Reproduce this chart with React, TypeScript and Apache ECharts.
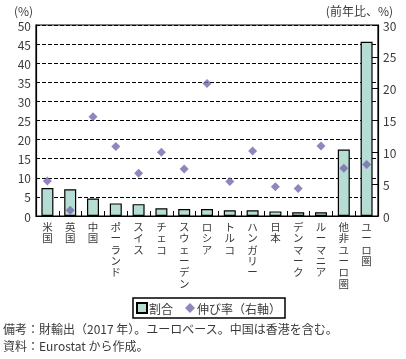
import React, { useEffect, useRef } from "react";
import * as echarts from "echarts";

const categories = ["米国", "英国", "中国", "ポーランド", "スイス", "チェコ", "スウェーデン", "ロシア", "トルコ", "ハンガリー", "日本", "デンマーク", "ルーマニア", "他非ユーロ圏", "ユーロ圏"];
const shareValues = [7.3, 7.0, 4.6, 3.3, 3.1, 2.0, 1.8, 1.8, 1.5, 1.5, 1.2, 1.0, 1.0, 17.4, 45.6];
const growthValues = [5.5, 0.9, 15.6, 10.9, 6.7, 10.0, 7.4, 20.8, 5.4, 10.2, 4.6, 4.3, 11.0, 7.5, 8.1];
const leftTicks = { min: 0, max: 50, interval: 5 };
const rightTicks = { min: 0, max: 30, interval: 5 };
const seriesNames = ["割合", "伸び率（右軸）"];
const leftUnit = "(%)";
const rightUnit = "(前年比、%)";
const notes = ["備考：財輸出（2017 年）。ユーロベース。中国は香港を含む。", "資料：Eurostat から作成。"];

const FONT = "'Noto Sans CJK JP', 'Noto Sans', sans-serif";
const TEXT = "#3a3a3a";

export default function App() {
  const ref = useRef<HTMLDivElement>(null);
  useEffect(() => {
    if (!ref.current) return;
    const chart = echarts.init(ref.current, null, { renderer: "svg" });
    chart.setOption({
      animation: false,
      textStyle: { fontFamily: FONT },
      grid: { left: 36, right: 28, top: 25, bottom: 143, show: true, borderColor: "#000", borderWidth: 1.2, backgroundColor: "transparent" },
      xAxis: {
        type: "category",
        data: categories,
        axisLine: { show: true, lineStyle: { color: "#000", width: 1.2 } },
        axisTick: { show: true, inside: true, length: 5, lineStyle: { color: "#000" } },
        axisLabel: {
          interval: 0,
          margin: 5,
          fontSize: 10.5,
          lineHeight: 11.3,
          color: TEXT,
          fontFamily: FONT,
          verticalAlign: "top",
          formatter: (v: string) => v.split("").join("\n"),
        },
      },
      yAxis: [
        {
          type: "value",
          min: leftTicks.min,
          max: leftTicks.max,
          interval: leftTicks.interval,
          axisLine: { show: true, lineStyle: { color: "#000", width: 1.2 } },
          axisTick: { show: false },
          axisLabel: { fontSize: 12, color: TEXT, margin: 5, fontFamily: FONT },
          splitLine: { show: true, lineStyle: { color: "#000", type: [4, 2], width: 1 } },
        },
        {
          type: "value",
          position: "right",
          min: rightTicks.min,
          max: rightTicks.max,
          interval: rightTicks.interval,
          axisLine: { show: true, lineStyle: { color: "#000", width: 1.2 } },
          axisTick: { show: true, inside: true, length: 6, lineStyle: { color: "#000" } },
          axisLabel: { fontSize: 12, color: TEXT, margin: 5, fontFamily: FONT },
          splitLine: { show: false },
        },
      ],
      legend: {
        left: 133,
        top: 298,
        padding: [4, 4, 4, 3],
        borderColor: "#000",
        borderWidth: 1.5,
        itemWidth: 10,
        itemHeight: 10,
        itemGap: 12,
        textStyle: { fontSize: 12, color: TEXT, fontFamily: FONT, padding: [0, 0, 0, -3] },
        data: [
          { name: seriesNames[0], icon: "rect" },
          { name: seriesNames[1], icon: "diamond", itemStyle: { borderWidth: 0 } },
        ],
      },
      series: [
        {
          name: seriesNames[0],
          type: "bar",
          yAxisIndex: 0,
          data: shareValues,
          barWidth: 12,
          itemStyle: { color: "#b6ddd4", borderColor: "#000", borderWidth: 1.2 },
        },
        {
          name: seriesNames[1],
          type: "scatter",
          yAxisIndex: 1,
          data: growthValues,
          symbol: "diamond",
          symbolSize: 9,
          itemStyle: { color: "#7767ad" },
          z: 5,
        },
      ],
      graphic: [
        { type: "text", left: 14, top: 4, style: { text: leftUnit, fontSize: 12, fill: TEXT, fontFamily: FONT } },
        { type: "text", right: 13, top: 4, style: { text: rightUnit, fontSize: 12, fill: TEXT, fontFamily: FONT } },
        { type: "text", left: 3, top: 322, style: { text: notes[0], fontSize: 12, fill: TEXT, fontFamily: FONT } },
        { type: "text", left: 3, top: 339, style: { text: notes[1], fontSize: 12, fill: TEXT, fontFamily: FONT } },
      ],
    });
    return () => chart.dispose();
  }, []);
  return <div ref={ref} style={{ position: "fixed", left: 0, top: 0, width: 406, height: 359 }} />;
}
